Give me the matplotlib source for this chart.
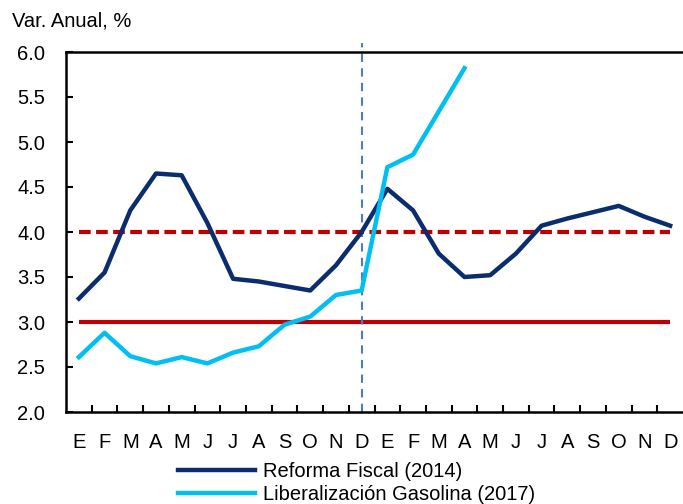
import matplotlib
matplotlib.use("Agg")
import matplotlib.pyplot as plt
import numpy as np

plt.rcParams['font.family'] = ['Liberation Sans', 'DejaVu Sans']

months = ["E", "F", "M", "A", "M", "J", "J", "A", "S", "O", "N", "D",
          "E", "F", "M", "A", "M", "J", "J", "A", "S", "O", "N", "D"]
reforma_2014 = [3.26, 3.55, 4.24, 4.65, 4.63, 4.10, 3.48, 3.45, 3.40, 3.35, 3.63, 4.00,
                4.48, 4.24, 3.76, 3.50, 3.52, 3.76, 4.07, 4.15, 4.22, 4.29, 4.17, 4.07]
gasolina_2017 = [2.61, 2.88, 2.62, 2.54, 2.61, 2.54, 2.66, 2.73, 2.97, 3.06, 3.30, 3.35,
                 4.72, 4.86, 5.34, 5.82]
meta = 3.0
limite_sup = 4.0
corte_idx = 11

FS = 14.5

fig = plt.figure(figsize=(6.83, 5.04), dpi=100)
ax = fig.add_axes([66/683, 1-412/504, 1-66/683, (412-52)/504])

x = np.arange(len(months))
ax.plot(x, [meta]*len(x), color="#C00000", lw=3.0, solid_capstyle='butt')
ax.plot(x, [limite_sup]*len(x), color="#C00000", lw=3.0, ls=(0, (2.8, 1.3)))
ax.plot([corte_idx, corte_idx], [2.0, 6.1], color="#4A7EC0", lw=1.5, ls=(0, (4, 3)), clip_on=False)
l1, = ax.plot(x, reforma_2014, color="#0B2D6E", lw=3.2, label="Reforma Fiscal (2014)")
l2, = ax.plot(np.arange(len(gasolina_2017)), gasolina_2017, color="#00BFF3", lw=3.2,
              label="Liberalización Gasolina (2017)")

ax.set_xlim(-0.5, len(months) - 0.5)
ax.set_ylim(2.0, 6.0)
ax.set_yticks(np.arange(2.0, 6.01, 0.5))
ax.set_yticklabels([f"{v:.1f}" for v in np.arange(2.0, 6.01, 0.5)])
ax.set_xticks(x)
ax.set_xticklabels(months)
ax.set_xticks(np.arange(0.5, len(months) - 0.5, 1.0), minor=True)
ax.tick_params(axis='x', which='major', length=0, pad=15, labelsize=FS)
ax.tick_params(axis='x', which='minor', direction='in', length=5, width=1.5)
ax.tick_params(axis='y', direction='in', length=5, width=1.5, pad=15, labelsize=FS)

for s in ['left', 'bottom', 'top']:
    ax.spines[s].set_linewidth(1.8)
    ax.spines[s].set_color('black')
ax.spines['right'].set_visible(False)

fig.text(12/683, 1-21/504, "Var. Anual, %", fontsize=FS, va='center', ha='left')

fig.legend(handles=[l1, l2], loc='upper left', bbox_to_anchor=(178/683, 1-462/504),
           frameon=False, fontsize=FS, handlelength=3.8, handletextpad=0.4,
           labelspacing=0.2, borderpad=0, borderaxespad=0)

fig.savefig("out.png", dpi=100)
